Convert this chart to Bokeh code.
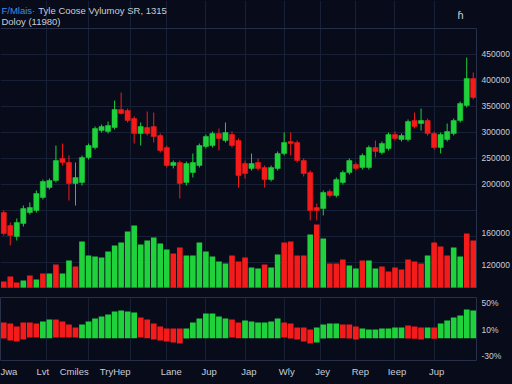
from bokeh.plotting import figure
from bokeh.models import ColumnDataSource, Range1d, FixedTicker, Span, NumeralTickFormatter
from bokeh.core.properties import value
from bokeh.layouts import column
from bokeh.embed import file_html
from bokeh.resources import INLINE

# ---------------- data ----------------
opens = [146100, 121200, 100000, 125000, 146100, 150000, 175000, 194200, 207700, 250000,
         242300, 201900, 203800, 251900, 271100, 303800, 301900, 309600, 344200, 342300,
         326900, 298100, 309600, 311500, 294200, 271100, 236500, 242300, 203800, 223100,
         236500, 273100, 275000, 298100, 284600, 296100, 284600, 240400, 230800, 242300,
         232700, 209600, 230800, 259600, 282700, 280800, 246100, 223100, 155800, 153800,
         186500, 178800, 203800, 223100, 238500, 232700, 232700, 271100, 261500, 269200,
         296100, 286500, 286500, 323100, 317300, 323100, 298100, 271100, 286500, 298100,
         323100, 351900, 403800]
highs = [150000, 126900, 134600, 159600, 165400, 188500, 209600, 211500, 275000, 278800,
         255800, 242300, 255800, 278800, 311500, 315400, 321100, 361500, 376900, 346100,
         330800, 319200, 340400, 338400, 298100, 275000, 246100, 246100, 244200, 259600,
         278800, 296100, 301900, 307700, 319200, 301900, 288500, 246100, 259600, 250000,
         236500, 236500, 263500, 300000, 300000, 284600, 250000, 226900, 163500, 188500,
         190400, 213500, 226900, 250000, 242300, 259600, 275000, 284600, 282700, 300000,
         301900, 298100, 325000, 338400, 346100, 326900, 301900, 300000, 317300, 326900,
         359600, 444200, 415400]
lows = [101900, 82700, 92300, 119200, 142300, 146100, 171100, 190400, 203800, 236500,
        169200, 159600, 198100, 248100, 267300, 300000, 298100, 305800, 334600, 319200,
        278800, 275000, 294200, 280800, 261500, 232700, 230800, 173100, 198100, 213500,
        232700, 269200, 271100, 265400, 280800, 271100, 194200, 211500, 226900, 226900,
        194200, 205800, 226900, 255800, 255800, 242300, 215400, 130800, 130800, 140400,
        175000, 175000, 200000, 219200, 226900, 228800, 228800, 251900, 257700, 265400,
        284600, 282700, 282700, 307700, 303800, 294200, 267300, 259600, 282700, 294200,
        319200, 348100, 363400]
closes = [105800, 101900, 126900, 153800, 155800, 182700, 205800, 207700, 246100, 242300,
          201900, 213500, 251900, 275000, 307700, 311500, 313400, 344200, 336500, 323100,
          298100, 311500, 298100, 292300, 265400, 236500, 242300, 201900, 240400, 242300,
          275000, 292300, 298100, 288500, 300000, 275000, 217300, 221100, 240400, 230800,
          209600, 232700, 259600, 280800, 278800, 246100, 221100, 150000, 150000, 184600,
          178800, 209600, 223100, 246100, 230800, 255800, 271100, 263500, 278800, 296100,
          288500, 294200, 321100, 311500, 323100, 298100, 271100, 296100, 301900, 323100,
          355800, 403800, 367300]

volume = [100500, 106600, 99300, 101700, 107800, 102900, 110200, 110200, 121200, 110200,
          126000, 118700, 149100, 132100, 130900, 129700, 137000, 144200, 147900, 161300,
          168500, 145500, 150300, 154000, 146700, 139400, 134500, 141800, 132100, 132100,
          147900, 137000, 130900, 124800, 122400, 132100, 124800, 129700, 117500, 116300,
          121200, 117500, 133300, 147900, 149100, 132100, 132100, 157600, 169800, 152800,
          122400, 122400, 127200, 120000, 116300, 126000, 126000, 116300, 118700, 112700,
          117500, 115100, 127200, 124800, 122400, 132100, 147900, 143000, 132100, 141800,
          130900, 158800, 150300]
volume_up = [0, 0, 0, 1, 0, 1, 0, 1, 0, 1,
             1, 0, 1, 1, 1, 1, 1, 1, 1, 1,
             1, 1, 1, 1, 1, 1, 0, 0, 1, 1,
             1, 1, 1, 1, 1, 0, 0, 0, 1, 1,
             0, 1, 1, 0, 0, 0, 0, 1, 0, 1,
             0, 0, 0, 1, 1, 0, 1, 1, 0, 0,
             0, 0, 0, 0, 0, 1, 0, 0, 0, 1,
             1, 0, 0]

osc_high = [20.5, 19, 14.5, 20.5, 20.5, 19, 22, 25, 25, 22,
            17.5, 13, 17.5, 22, 26.5, 29.5, 32.5, 37, 38.5, 37,
            35.5, 28, 25, 19, 14.5, 11.5, 11.5, 11.5, 11.5, 20.5,
            26.5, 34, 34, 29.5, 26.5, 25, 20.5, 23.5, 22, 20.5,
            20.5, 22, 26.5, 20.5, 19, 13, 13, 10, 13, 17.5,
            19, 19, 17.5, 17.5, 14.5, 11.5, 10, 10, 11.5, 11.5,
            13, 13, 16, 14.5, 13, 13, 13, 19, 23.5, 28,
            31, 40, 38.5]
osc_low = [-3.5, -6.5, -8, -5, -2, -2, -3, -3, -2, -2,
           -2, -2, -3, -3, -3, -3, -3, -3, -3, -3,
           -3, -2, -3, -5, -6.5, -8, -9.5, -11, -3.5, -3,
           -3, -3, -3, -3, -3, -2, -3, -3, -3, -3,
           -3, -3, -3, -2, -3.5, -5, -8, -11, -9.5, -3.5,
           -3, -3, -3, -3.5, -5, -3, -3, -3, -3, -3,
           -3, -3, -3.5, -4, -5, -3, -4, -3, -3, -3,
           -3, -3, -3]
osc_up = [0, 0, 0, 0, 0, 0, 1, 1, 0, 0,
          0, 0, 1, 1, 1, 1, 1, 1, 1, 1,
          1, 0, 0, 0, 0, 0, 0, 0, 1, 1,
          1, 1, 1, 1, 1, 0, 0, 1, 1, 1,
          1, 1, 1, 0, 0, 0, 0, 0, 1, 1,
          1, 1, 0, 0, 0, 1, 1, 1, 1, 1,
          1, 1, 0, 0, 0, 1, 0, 1, 1, 1,
          1, 1, 1]

price_ticks = [450000, 400000, 350000, 300000, 250000, 200000]
price_grid = [50000, 100000, 150000, 200000, 250000, 300000, 350000, 400000, 450000]
price_panel_top = 500000
volume_ticks = [160000, 120000]
osc_ticks = [50, 10, -30]
osc_tick_labels = ["50%", "10%", "-30%"]
x_label_pos = [0.2, 6.0, 10.8, 17.1, 25.7, 31.5, 37.6, 43.4, 48.9, 54.7, 60.3, 66.4]
x_labels = ["Jwa", "Lvt", "Cmiles", "TryHep", "Lane", "Jup", "Jap", "Wly", "Jey", "Rep", "Ieep", "Jup"]
x_grid_pos = [6.5, 13, 19.5, 25, 31, 37, 43, 48.5, 54, 60, 66]
title_symbol = "F/Mlais·"
title_text = "Tyle Coose Vylumoy SR, 1315"
subtitle_text = "Doloy (11980)"

# ---------------- style ----------------
BG = "#070b1a"
GRID = "#182036"
BORDER = "#283049"
UP = "#1fd13b"
DOWN = "#f41b1b"
TEXT = "#c9cdd8"
BLUE = "#3d8fe6"
FONT = "Liberation Sans"
FW = 476

n = len(opens)
idx = list(range(n))
cdl_color = [UP if c >= o else DOWN for o, c in zip(opens, closes)]
src = ColumnDataSource(dict(
    x=idx, o=opens, h=highs, l=lows, c=closes,
    top=[max(o, c) for o, c in zip(opens, closes)],
    bot=[min(o, c) for o, c in zip(opens, closes)],
    color=cdl_color,
    vol=volume, vcolor=[UP if u else DOWN for u in volume_up],
    oh=osc_high, ol=osc_low, ocolor=[UP if u else DOWN for u in osc_up],
))

xr = Range1d(-0.5, n - 0.5)
price_range = Range1d(0, 553846)
vol_range = Range1d(92000, 442000)

# ---------------- price + volume panel ----------------
p1 = figure(frame_width=FW, frame_height=288, x_range=xr, y_range=price_range,
            x_axis_location=None, y_axis_location="right",
            output_backend="svg", toolbar_location=None,
            background_fill_color=BG, border_fill_color=BG,
            min_border_left=0, min_border_right=36, min_border_top=0, min_border_bottom=0,
            outline_line_color=None)
p1.extra_y_ranges = {"vol": vol_range}

p1.vbar(x="x", top="vol", bottom=0, width=0.86, y_range_name="vol",
        fill_color="vcolor", line_color=None, source=src)
p1.segment(x0="x", y0="h", x1="x", y1="l", line_color="color", line_width=1, source=src)
p1.vbar(x="x", top="top", bottom="bot", width=0.8, fill_color="color",
        line_color="color", line_width=0.5, source=src)

# volume tick labels shown on the shared right axis, placed via the two ranges
def vol_to_price(v):
    f = (v - vol_range.start) / (vol_range.end - vol_range.start)
    return price_range.start + f * (price_range.end - price_range.start)

vol_tick_pos = [round(vol_to_price(v), 1) for v in volume_ticks]
ax = p1.yaxis[0]
ax.ticker = FixedTicker(ticks=price_ticks + vol_tick_pos)
ax.formatter = NumeralTickFormatter(format="0")
ax.major_label_overrides = {t: str(v) for t, v in zip(vol_tick_pos, volume_ticks)}
ax.bounds = (0, price_panel_top)
ax.axis_line_color = BORDER
ax.major_tick_line_color = None
ax.minor_tick_line_color = None
ax.major_tick_out = 0
ax.major_tick_in = 0
ax.major_label_standoff = 5
ax.major_label_text_color = TEXT
ax.major_label_text_font = FONT
ax.major_label_text_font_size = "8.5px"

p1.ygrid.ticker = FixedTicker(ticks=price_grid)
p1.xgrid.ticker = FixedTicker(ticks=x_grid_pos)
p1.xgrid.bounds = (0, price_panel_top)
for g in (p1.xgrid[0], p1.ygrid[0]):
    g.grid_line_color = GRID
    g.grid_line_width = 1

p1.add_layout(Span(location=price_panel_top, dimension="width", line_color=BORDER, line_width=1))
p1.add_layout(Span(location=0, dimension="width", line_color=BORDER, line_width=2))

# header texts (drawn in the data space above the chart area)
p1.text(x=[-0.35], y=[545000], text=[title_symbol], text_color=BLUE,
        text_font=value(FONT), text_font_size=value("9.5px"), text_baseline="top")
p1.text(x=[5.3], y=[545000], text=[title_text], text_color=TEXT,
        text_font=value(FONT), text_font_size=value("9.5px"), text_baseline="top")
p1.text(x=[-0.35], y=[523500], text=[subtitle_text], text_color=TEXT,
        text_font=value(FONT), text_font_size=value("9.5px"), text_baseline="top")
p1.text(x=[69.6], y=[538000], text=["ɦ"], text_color=TEXT,
        text_font=value(FONT), text_font_size=value("11px"), text_baseline="top")

# ---------------- oscillator panel ----------------
p2 = figure(frame_width=FW, frame_height=63, x_range=xr, y_range=Range1d(-36.5, 58),
            y_axis_location="right",
            output_backend="svg", toolbar_location=None,
            background_fill_color=BG, border_fill_color=BG,
            min_border_left=0, min_border_right=36, min_border_top=9, min_border_bottom=24,
            outline_line_color=BORDER)
p2.vbar(x="x", top="oh", bottom="ol", width=0.88, fill_color="ocolor", line_color=None, source=src)
p2.ygrid.visible = False
p2.xgrid.ticker = FixedTicker(ticks=x_grid_pos)
p2.xgrid[0].grid_line_color = GRID

ay = p2.yaxis[0]
ay.ticker = FixedTicker(ticks=osc_ticks)
ay.major_label_overrides = {t: s for t, s in zip(osc_ticks, osc_tick_labels)}
ay.axis_line_color = None
ay.major_tick_line_color = None
ay.minor_tick_line_color = None
ay.major_tick_out = 0
ay.major_tick_in = 0
ay.major_label_standoff = 5
ay.major_label_text_color = TEXT
ay.major_label_text_font = FONT
ay.major_label_text_font_size = "8.5px"

axx = p2.xaxis[0]
axx.ticker = FixedTicker(ticks=x_label_pos)
axx.major_label_overrides = {t: s for t, s in zip(x_label_pos, x_labels)}
axx.major_label_text_align = "left"
axx.axis_line_color = None
axx.major_tick_line_color = None
axx.minor_tick_line_color = None
axx.major_tick_out = 0
axx.major_tick_in = 0
axx.major_label_standoff = 5
axx.major_label_text_color = TEXT
axx.major_label_text_font = FONT
axx.major_label_text_font_size = "9.5px"

layout = column(p1, p2, spacing=0, styles={"background-color": BG})
open("out.html", "w").write(file_html(layout, INLINE))
